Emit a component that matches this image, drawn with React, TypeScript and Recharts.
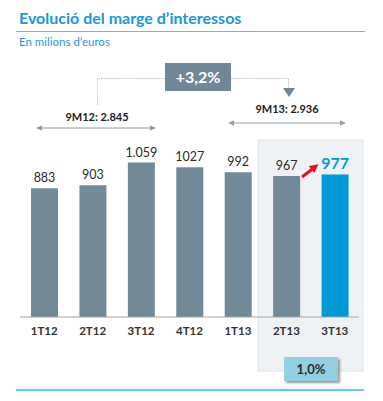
import React from "react";
import { BarChart, Bar, XAxis, YAxis, Cell, LabelList } from "recharts";

const quarters = ["1T12", "2T12", "3T12", "4T12", "1T13", "2T13", "3T13"];
const marginValues = [883, 903, 1059, 1027, 992, 967, 977];
const valueLabels = ["883", "903", "1.059", "1027", "992", "967", "977"];
const highlightIndex = 6;

const GREY = "#728a97";
const BLUE = "#0099d8";
const TITLE_BLUE = "#1b98d5";
const FONT = "Lato, 'Open Sans', sans-serif";

const data = quarters.map((q, i) => ({ q, value: marginValues[i], label: valueLabels[i] }));

function ValueLabel(props: any) {
  const { x, y, width, index } = props;
  const hl = index === highlightIndex;
  return (
    <text
      x={x + width / 2}
      y={y - 6}
      textAnchor="middle"
      fontFamily={FONT}
      fontSize={hl ? 16 : 12.5}
      fontWeight={hl ? 700 : 400}
      fill={hl ? BLUE : "#2b2b2b"}
    >
      {valueLabels[index]}
    </text>
  );
}

export default function App() {
  return (
    <div style={{ position: "absolute", left: 0, top: 0, width: 383, height: 401, background: "#fff", fontFamily: FONT }}>
      {/* shaded band behind the last two quarters */}
      <svg width={383} height={401} style={{ position: "absolute", left: 0, top: 0 }}>
        <rect x={258} y={140} width={105} height={231} fill="#eff2f4" stroke="#dfe3e6" />
      </svg>

      <div style={{ position: "absolute", left: 0, top: 0 }}>
        <BarChart width={383} height={401} data={data} margin={{ top: 142, right: 24, left: 20, bottom: 54 }} barSize={27}>
          <YAxis hide domain={[0, 1200]} />
          <XAxis
            dataKey="q"
            height={30}
            tickLine={false}
            tickMargin={4}
            axisLine={{ stroke: "#a3a3a3" }}
            tick={{ fontSize: 11.5, fontWeight: 700, fill: "#333", fontFamily: FONT }}
          />
          <Bar dataKey="value" isAnimationActive={false}>
            {data.map((d, i) => (
              <Cell key={d.q} fill={i === highlightIndex ? BLUE : GREY} />
            ))}
            <LabelList dataKey="label" content={ValueLabel} />
          </Bar>
        </BarChart>
      </div>

      {/* titles and annotations */}
      <svg width={383} height={401} style={{ position: "absolute", left: 0, top: 0 }}>
        <defs>
          <marker id="dbl" viewBox="0 0 10 10" refX="9" refY="5" markerWidth="5" markerHeight="5" orient="auto-start-reverse">
            <path d="M0,0 L10,5 L0,10 z" fill="#8ba0ab" />
          </marker>
          <marker id="red" viewBox="0 0 10 10" refX="5" refY="5" markerWidth="3" markerHeight="3" orient="auto">
            <path d="M0,0 L10,5 L0,10 z" fill="#e5141b" />
          </marker>
          <filter id="sh" x="-20%" y="-20%" width="150%" height="160%">
            <feDropShadow dx="2" dy="2" stdDeviation="1" floodColor="#555" floodOpacity="0.6" />
          </filter>
        </defs>
        <text x={19} y={24} fontFamily={FONT} fontSize={16} fontWeight={700} fill={TITLE_BLUE}>
          Evolució del marge d’interessos
        </text>
        <line x1={16} y1={31.5} x2={365} y2={31.5} stroke="#5cbde8" strokeWidth={1.2} />
        <text x={19} y={46} fontFamily={FONT} fontSize={11.5} fill={TITLE_BLUE}>
          En milions d’euros
        </text>

        <path d="M97.5 105 V78.5 H165 M231 78.5 H288.5 V88" fill="none" stroke="#b9c3c9" strokeWidth={1} strokeDasharray="1.5 1" />
        <rect x={165} y={63} width={66} height={28} fill="#6f8796" />
        <text x={198} y={83} textAnchor="middle" fontFamily={FONT} fontSize={16} fontWeight={700} fill="#fff">
          +3,2%
        </text>
        <path d="M283 88 L295 88 L289 97 z" fill="#6f8796" />

        <text x={97} y={121} textAnchor="middle" fontFamily={FONT} fontSize={11} fontWeight={700} fill="#222">
          9M12: 2.845
        </text>
        <line x1={37} y1={128} x2={155} y2={128} stroke="#8ba0ab" strokeWidth={1.2} markerStart="url(#dbl)" markerEnd="url(#dbl)" />
        <text x={287} y={113} textAnchor="middle" fontFamily={FONT} fontSize={11} fontWeight={700} fill="#222">
          9M13: 2.936
        </text>
        <line x1={229} y1={123} x2={345} y2={123} stroke="#8ba0ab" strokeWidth={1.2} markerStart="url(#dbl)" markerEnd="url(#dbl)" />

        <line x1={302} y1={177} x2={315} y2={167} stroke="#e5141b" strokeWidth={3} markerEnd="url(#red)" />

        <rect x={284} y={357} width={54} height={24} fill="#93cfe3" filter="url(#sh)" />
        <text x={311} y={374} textAnchor="middle" fontFamily={FONT} fontSize={13} fontWeight={700} fill="#2b2b2b">
          1,0%
        </text>

        <line x1={16} y1={390} x2={364} y2={390} stroke="#38b6ea" strokeWidth={1.3} />
      </svg>
    </div>
  );
}
